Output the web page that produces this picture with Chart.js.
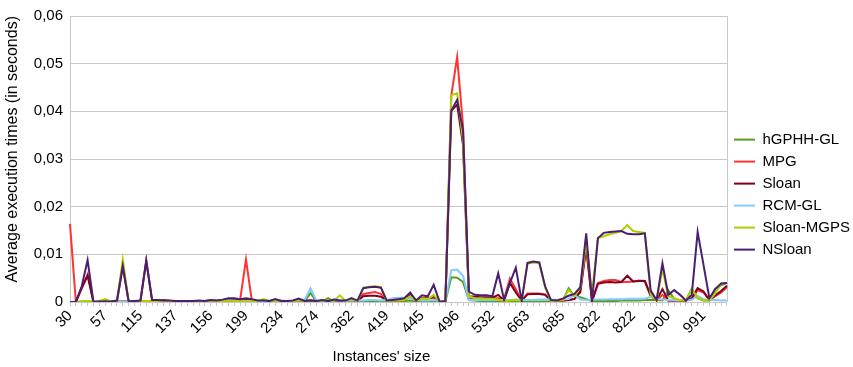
<!DOCTYPE html>
<html>
<head>
<meta charset="utf-8">
<script src="https://cdn.jsdelivr.net/npm/chart.js@4.4.0/dist/chart.umd.min.js"></script>
<style>
  html, body { margin: 0; padding: 0; background: #fff; }
  #wrap { width: 853px; height: 367px; position: relative; }
</style>
</head>
<body>
<div id="wrap"><canvas id="myChart"></canvas></div>
<script>
// visible x labels (one every 6 instances)
const tickLabels = ["30", "57", "115", "137", "156", "199", "234", "274", "362", "419",
  "445", "496", "532", "663", "685", "822", "822", "900", "991"];

const hGPHH = [
  0, 0, 0.0001, 0.0001, 0.0001, 0.0001, 0.0002, 0.0001, 0.0001, 0.0002,
  0.0001, 0.0001, 0.0001, 0.0001, 0.0001, 0.0001, 0.0001, 0.0001, 0.0001, 0.0001,
  0.0001, 0.0001, 0.0001, 0.0001, 0.0001, 0.0001, 0.0001, 0.0002, 0.0001, 0.0001,
  0.0001, 0.0001, 0.0001, 0.0002, 0.0001, 0.0001, 0.0001, 0.0001, 0.0001, 0.0002,
  0.0001, 0.0019, 0.0001, 0.0001, 0.0008, 0.0001, 0.0002, 0.0001, 0.0002, 0.0001,
  0.0001, 0.0001, 0.0001, 0.0001, 0.0001, 0.0002, 0.0002, 0.0002, 0.0003, 0.0001,
  0.0002, 0.0002, 0.0002, 0.0001, 0.0001, 0.0052, 0.0051, 0.0042, 0.0004, 0.0003,
  0.0002, 0.0002, 0.0002, 0.0002, 0.0002, 0.0002, 0.0002, 0.0001, 0.0001, 0.0001,
  0.0001, 0.0001, 0.0001, 0.0002, 0.0003, 0.0029, 0.0012, 0.001, 0.0006, 0.0002,
  0.0002, 0.0002, 0.0002, 0.0002, 0.0003, 0.0003, 0.0003, 0.0003, 0.0004, 0.0004,
  0.0004, 0.0003, 0.0025, 0.0006, 0.0003, 0.0003, 0.0028, 0.0008, 0.0003, 0.0003,
  0.0028, 0.0035, 0.004
];

const mpg = [
  0.0164, 0, 0.0028, 0.0058, 0, 0.0001, 0.0001, 0.0001, 0.0001, 0.0002,
  0.0001, 0.0001, 0.0001, 0.0002, 0.0002, 0.0002, 0.0004, 0.0002, 0.0002, 0.0001,
  0.0002, 0.0002, 0.0001, 0.0002, 0.0002, 0.0002, 0.0002, 0.0003, 0.0003, 0.0004,
  0.0089, 0.0003, 0.0002, 0.0002, 0.0002, 0.0003, 0.0002, 0.0002, 0.0002, 0.0003,
  0.0002, 0.0003, 0.0002, 0.0002, 0.0002, 0.0003, 0.0002, 0.0002, 0.0004, 0.0002,
  0.0017, 0.0019, 0.0021, 0.0017, 0.0003, 0.0003, 0.0003, 0.0004, 0.0012, 0.0003,
  0.0009, 0.0008, 0.0009, 0.0002, 0.0002, 0.0433, 0.0514, 0.037, 0.0009, 0.0008,
  0.0008, 0.0009, 0.0008, 0.0008, 0.0006, 0.0049, 0.0027, 0.0003, 0.0018, 0.0018,
  0.0018, 0.0016, 0.0003, 0.0002, 0.0003, 0.0004, 0.0007, 0.0025, 0.011, 0.0002,
  0.004, 0.0044, 0.0046, 0.0046, 0.0042, 0.0042, 0.0043, 0.0045, 0.0044, 0.0015,
  0.0003, 0.0015, 0.0003, 0.0003, 0.0003, 0.0003, 0.0006, 0.0025, 0.002, 0.0004,
  0.0012, 0.002, 0.0031
];

const sloan = [
  0, 0, 0.003, 0.0055, 0, 0.0001, 0.0001, 0.0001, 0.0001, 0.0075,
  0.0001, 0.0001, 0.0001, 0.0086, 0.0003, 0.0002, 0.0003, 0.0002, 0.0002, 0.0002,
  0.0002, 0.0002, 0.0002, 0.0002, 0.0003, 0.0002, 0.0003, 0.0004, 0.0004, 0.0003,
  0.0004, 0.0003, 0.0002, 0.0002, 0.0002, 0.0004, 0.0002, 0.0002, 0.0002, 0.0004,
  0.0002, 0.0003, 0.0002, 0.0002, 0.0002, 0.0003, 0.0002, 0.0002, 0.0005, 0.0002,
  0.0012, 0.0013, 0.0013, 0.0011, 0.0003, 0.0004, 0.0004, 0.0004, 0.0015, 0.0003,
  0.0008, 0.0007, 0.0012, 0.0002, 0.0002, 0.0401, 0.0414, 0.033, 0.0012, 0.0011,
  0.001, 0.001, 0.0009, 0.0015, 0.0003, 0.004, 0.002, 0.0003, 0.0016, 0.0017,
  0.0017, 0.0015, 0.0003, 0.0002, 0.0003, 0.0004, 0.0006, 0.0021, 0.0118, 0.0002,
  0.0038, 0.0041, 0.0042, 0.0041, 0.0042, 0.0055, 0.0043, 0.0044, 0.0044, 0.0012,
  0.0004, 0.0027, 0.0003, 0.0003, 0.0004, 0.0003, 0.0008, 0.0029, 0.0022, 0.0004,
  0.0014, 0.0023, 0.0034
];

const rcmGL = [
  0, 0, 0.0001, 0.0001, 0.0001, 0.0001, 0.0001, 0.0001, 0.0001, 0.0001,
  0.0001, 0.0001, 0.0001, 0.0001, 0.0001, 0.0001, 0.0002, 0.0002, 0.0002, 0.0002,
  0.0002, 0.0002, 0.0002, 0.0002, 0.0003, 0.0003, 0.0003, 0.0003, 0.0003, 0.0002,
  0.0002, 0.0002, 0.0002, 0.0002, 0.0002, 0.0003, 0.0003, 0.0002, 0.0002, 0.0003,
  0.0004, 0.0029, 0.0003, 0.0002, 0.0003, 0.0003, 0.0003, 0.0002, 0.0003, 0.0003,
  0.0003, 0.0004, 0.0004, 0.0003, 0.0004, 0.0008, 0.0009, 0.0009, 0.0007, 0.0004,
  0.0003, 0.0003, 0.0004, 0.0002, 0.0002, 0.0067, 0.0068, 0.0055, 0.0004, 0.0004,
  0.0004, 0.0004, 0.0004, 0.0004, 0.0004, 0.0004, 0.0005, 0.0004, 0.0004, 0.0004,
  0.0005, 0.0005, 0.0005, 0.0004, 0.0005, 0.0006, 0.0015, 0.0005, 0.0004, 0.0005,
  0.0005, 0.0005, 0.0006, 0.0006, 0.0006, 0.0007, 0.0007, 0.0007, 0.0007, 0.0011,
  0.0006, 0.0005, 0.0004, 0.0004, 0.0004, 0.0004, 0.0005, 0.0013, 0.0006, 0.0004,
  0.0004, 0.0003, 0.0003
];

const sloanMGPS = [
  0, 0, 0.0001, 0.0002, 0.0001, 0.0002, 0.0006, 0.0001, 0.0001, 0.0089,
  0.0001, 0.0001, 0.0001, 0.0002, 0.0001, 0.0002, 0.0002, 0.0001, 0.0001, 0.0002,
  0.0001, 0.0002, 0.0001, 0.0002, 0.0001, 0.0002, 0.0002, 0.0003, 0.0002, 0.0002,
  0.0001, 0.0002, 0.0002, 0.0006, 0.0002, 0.0003, 0.0001, 0.0002, 0.0002, 0.0004,
  0.0001, 0.0002, 0.0002, 0.0003, 0.0004, 0.0002, 0.0014, 0.0002, 0.0005, 0.0002,
  0.003, 0.0032, 0.0033, 0.0031, 0.0002, 0.0003, 0.0003, 0.0004, 0.0012, 0.0002,
  0.0008, 0.0006, 0.0015, 0.0001, 0.0001, 0.0434, 0.0438, 0.034, 0.0012, 0.0008,
  0.0008, 0.0007, 0.0007, 0.0005, 0.0002, 0.0003, 0.0004, 0.0002, 0.0081, 0.0083,
  0.0082, 0.003, 0.0002, 0.0002, 0.0004, 0.0025, 0.0012, 0.003, 0.0125, 0.0018,
  0.0134, 0.0138, 0.0142, 0.0145, 0.0149, 0.0161, 0.0149, 0.0147, 0.0145, 0.0015,
  0.0003, 0.0069, 0.0012, 0.0008, 0.0004, 0.0003, 0.0028, 0.0008, 0.0004, 0.0003,
  0.0018, 0.0038, 0.004
];

const nSloan = [
  0, 0, 0.0033, 0.0088, 0, 0.0001, 0.0001, 0.0001, 0.0003, 0.0076,
  0.0001, 0.0002, 0.0003, 0.0087, 0.0004, 0.0004, 0.0003, 0.0003, 0.0002, 0.0002,
  0.0002, 0.0002, 0.0003, 0.0002, 0.0004, 0.0003, 0.0005, 0.0008, 0.0008, 0.0006,
  0.0008, 0.0006, 0.0003, 0.0003, 0.0002, 0.0006, 0.0002, 0.0002, 0.0003, 0.0007,
  0.0002, 0.0003, 0.0002, 0.0004, 0.0002, 0.0005, 0.0003, 0.0003, 0.0008, 0.0003,
  0.0029, 0.0031, 0.0032, 0.003, 0.0003, 0.0004, 0.0006, 0.0008, 0.002, 0.0003,
  0.0014, 0.0012, 0.0036, 0.0001, 0.0001, 0.0401, 0.0424, 0.036, 0.0022, 0.0015,
  0.0014, 0.0014, 0.0012, 0.006, 0.0005, 0.004, 0.0072, 0.0003, 0.0082, 0.0085,
  0.0083, 0.0033, 0.0004, 0.0003, 0.0007, 0.0013, 0.0017, 0.0031, 0.0144, 0.0002,
  0.0134, 0.0145, 0.0147, 0.0148, 0.0149, 0.0143, 0.0142, 0.0142, 0.0144, 0.0024,
  0.0004, 0.0081, 0.0015, 0.0025, 0.0015, 0.0003, 0.0015, 0.0147, 0.0078, 0.0008,
  0.0027, 0.0039, 0.004
];

// one category per instance, only every 6th one carries a label
const labelStep = 6;
const categories = hGPHH.map((_, i) => (i % labelStep === 0 ? tickLabels[i / labelStep] : ""));

const series = [
  { label: "hGPHH-GL", data: hGPHH, color: "#579d1c" },
  { label: "MPG", data: mpg, color: "#ff3333" },
  { label: "Sloan", data: sloan, color: "#7e0021" },
  { label: "RCM-GL", data: rcmGL, color: "#83caff" },
  { label: "Sloan-MGPS", data: sloanMGPS, color: "#aecf00" },
  { label: "NSloan", data: nSloan, color: "#4b1f6f" },
];

const family = "'Liberation Sans', Arial, sans-serif";
const font = { family, size: 15 };
const gridColor = "#c8c8c8";

// right side of the plot frame + x axis title (sits a bit left of centre)
const frameAndTitle = {
  id: "frameAndTitle",
  beforeDatasetsDraw(chart) {
    const { ctx, chartArea: a } = chart;
    const x = Math.round(a.right) + 0.5;
    ctx.save();
    ctx.strokeStyle = gridColor;
    ctx.lineWidth = 1;
    ctx.beginPath();
    ctx.moveTo(x, a.top);
    ctx.lineTo(x, a.bottom);
    ctx.stroke();
    ctx.restore();
  },
  afterDraw(chart) {
    const { ctx, chartArea: a } = chart;
    ctx.save();
    ctx.font = "15px " + family;
    ctx.fillStyle = "#000";
    ctx.textAlign = "center";
    ctx.textBaseline = "middle";
    ctx.fillText("Instances' size", (a.left + a.right) / 2 - 17, 357);
    ctx.restore();
  },
};

const config = {
  type: "line",
  data: {
    labels: categories,
    datasets: series.map((s, i) => ({
      label: s.label,
      data: s.data,
      borderColor: s.color,
      backgroundColor: s.color,
      borderWidth: 2,
      pointRadius: 0,
      tension: 0,
      order: series.length - i, // last series drawn on top
    })),
  },
  options: {
    responsive: true,
    maintainAspectRatio: false,
    animation: false,
    layout: { padding: { top: 15, right: -7, bottom: 0, left: 0 } },
    scales: {
      x: {
        offset: false,
        grid: {
          drawOnChartArea: false,
          color: gridColor,
          tickLength: 4,
        },
        border: { color: gridColor },
        ticks: {
          autoSkip: false,
          maxRotation: 45,
          minRotation: 45,
          color: "#000",
          font: font,
          padding: 1,
        },
        afterFit(scale) { scale.height = 65; },
      },
      y: {
        min: 0,
        max: 0.06,
        grid: { color: gridColor, drawTicks: false },
        border: { color: gridColor },
        ticks: {
          stepSize: 0.01,
          color: "#000",
          font: font,
          padding: 7,
          callback: (v) => (v === 0 ? "0" : v.toFixed(2).replace(".", ",")),
        },
        title: {
          display: true,
          align: "end",
          text: "Average execution times (in seconds)",
          color: "#000",
          font: { family, size: 16 },
          padding: { top: 3, bottom: 0 },
        },
        afterFit(scale) { scale.width = 70; },
      },
    },
    plugins: {
      legend: {
        position: "right",
        title: { display: true, text: " ", font: { size: 1 }, padding: 3 },
        labels: {
          boxWidth: 21,
          boxHeight: 2,
          padding: 7,
          color: "#000",
          font: font,
          sort: (a, b) => a.datasetIndex - b.datasetIndex,
          generateLabels: (chart) =>
            Chart.defaults.plugins.legend.labels.generateLabels(chart)
              .map((item) => ({ ...item, lineWidth: 0 })),
        },
      },
      tooltip: { enabled: false },
    },
  },
  plugins: [frameAndTitle],
};

const myChart = new Chart(document.getElementById("myChart"), config);
</script>
</body>
</html>
